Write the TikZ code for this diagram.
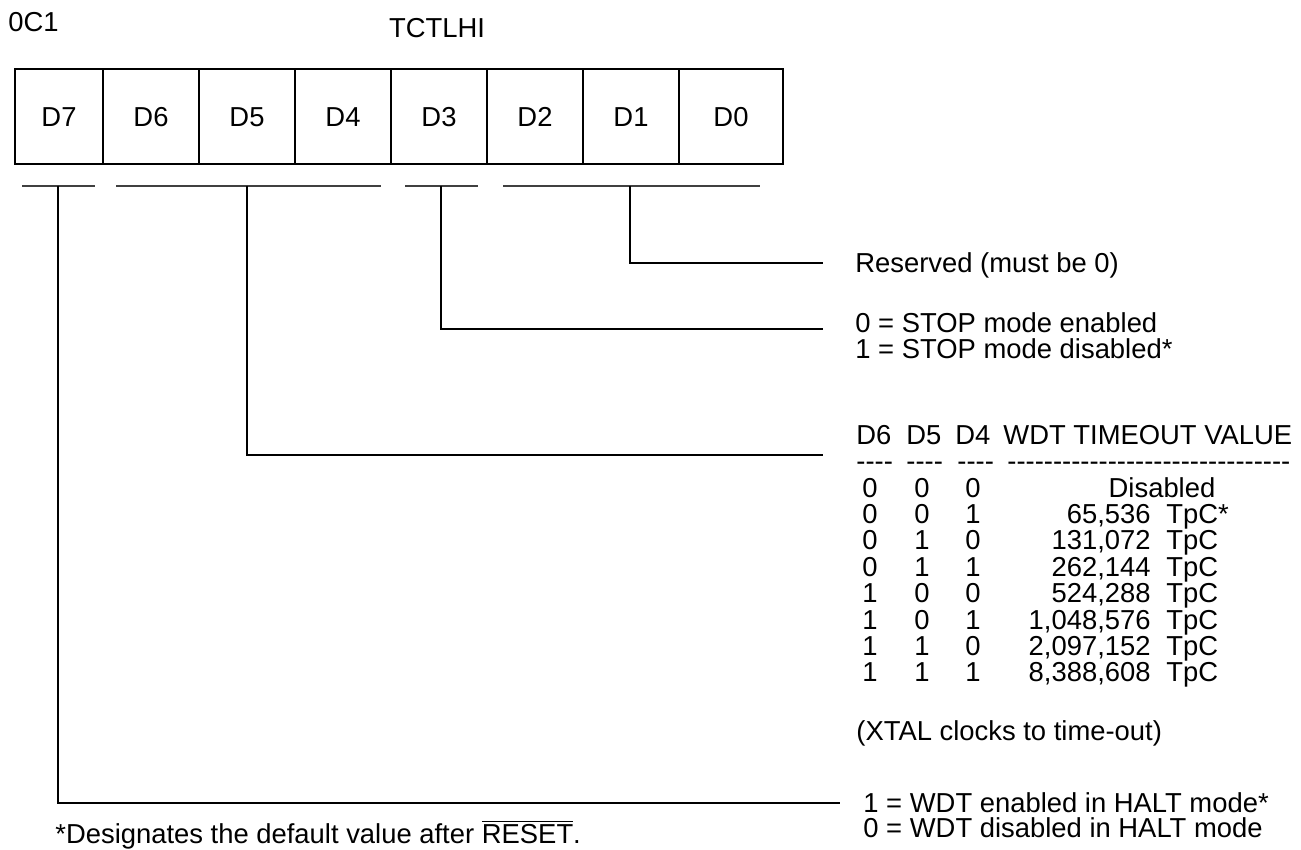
\documentclass[tikz,border=0pt]{standalone}
\usepackage{fontspec}
\setmainfont{Liberation Sans}[Ligatures=TeXOff]
\begin{document}
\begin{tikzpicture}[font=\fontsize{13.7}{16}\selectfont, x=.5pt, y=-.5pt,
  cell/.style={draw, line width=.6pt, minimum height=47.5pt, inner sep=0pt,
               text height=10pt, text depth=0pt},
  txt/.style={anchor=base west, inner sep=0pt},
  mid/.style={anchor=base, inner sep=0pt},
  bar/.style={line width=1pt, black!75},
  lead/.style={line width=.6pt}]

\useasboundingbox (0,0) rectangle (1301,850);

\node[txt] (addr) at (8,32) {0C1};
\node[mid] (regname) at (437,38) {TCTLHI};

\foreach \n/\c/\w in {7/59/44pt, 6/151/48pt, 5/247/48pt, 4/343/48pt,
                      3/439/48pt, 2/535/48pt, 1/631/48pt, 0/731/52pt}
\node[cell, minimum width=\w] (d\n) at (\c,116.5) {D\n};

% bit groups
\draw[bar] (22,186) -- (95,186);
\draw[bar] (116,186) -- (381,186);
\draw[bar] (405,186) -- (478,186);
\draw[bar] (503,186) -- (760,186);

\coordinate (u7) at (58,186);
\coordinate (u4) at (247,186);
\coordinate (u3) at (441,186);
\coordinate (u0) at (630,186);

\coordinate (e0) at (823,263);
\coordinate (e3) at (823,329);
\coordinate (e4) at (823,455);
\coordinate (e7) at (840,803);

\draw[lead] (u0) |- (e0);
\draw[lead] (u3) |- (e3);
\draw[lead] (u4) |- (e4);
\draw[lead] (u7) |- (e7);

\node[txt] (res) at (855,273) {Reserved (must be 0)};

\node[txt] (stop0) at (855,333) {0 = STOP mode enabled};
\node[txt] (stop1) at (855,358) {1 = STOP mode disabled*};

% timeout table
\node[txt] (h6) at (856,444) {D6};
\node[txt] (h5) at (906,444) {D5};
\node[txt] (h4) at (955,444) {D4};
\node[txt] (hv) at (1003,444) {WDT TIMEOUT VALUE};

\node[txt] (r6) at (856,470) {----};
\node[txt] (r5) at (906,470) {----};
\node[txt] (r4) at (957,470) {----};
\node[txt] (rv) at (1007,470) {-------------------------------};

\foreach \a/\b/\c [count=\i from 0] in {0/0/0, 0/0/1, 0/1/0, 0/1/1,
                                        1/0/0, 1/0/1, 1/1/0, 1/1/1}{
\node[mid] (a\i) at (870,497+26.4*\i) {\a};
\node[mid] (b\i) at (922,497+26.4*\i) {\b};
\node[mid] (c\i) at (973,497+26.4*\i) {\c};
}

\node[mid] (v0) at (1162,497) {Disabled};
\foreach \v/\u [count=\i] in {{65,536}/TpC*, {131,072}/TpC, {262,144}/TpC,
                              {524,288}/TpC, {1,048,576}/TpC,
                              {2,097,152}/TpC, {8,388,608}/TpC}{
\node[anchor=base east, inner sep=0pt] (v\i) at (1151,497+26.4*\i) {\v};
\node[txt] (t\i) at (1166,497+26.4*\i) {\u};
}

\node[txt] (xtal) at (856,740) {(XTAL clocks to time-out)};

\node[txt] (halt1) at (863,812) {1 = WDT enabled in HALT mode*};
\node[txt] (halt0) at (863,837) {0 = WDT disabled in HALT mode};

\node[txt] (note) at (55,843) {*Designates the default value after $\overline{\mbox{RESET}}$.};
\end{tikzpicture}
\end{document}
